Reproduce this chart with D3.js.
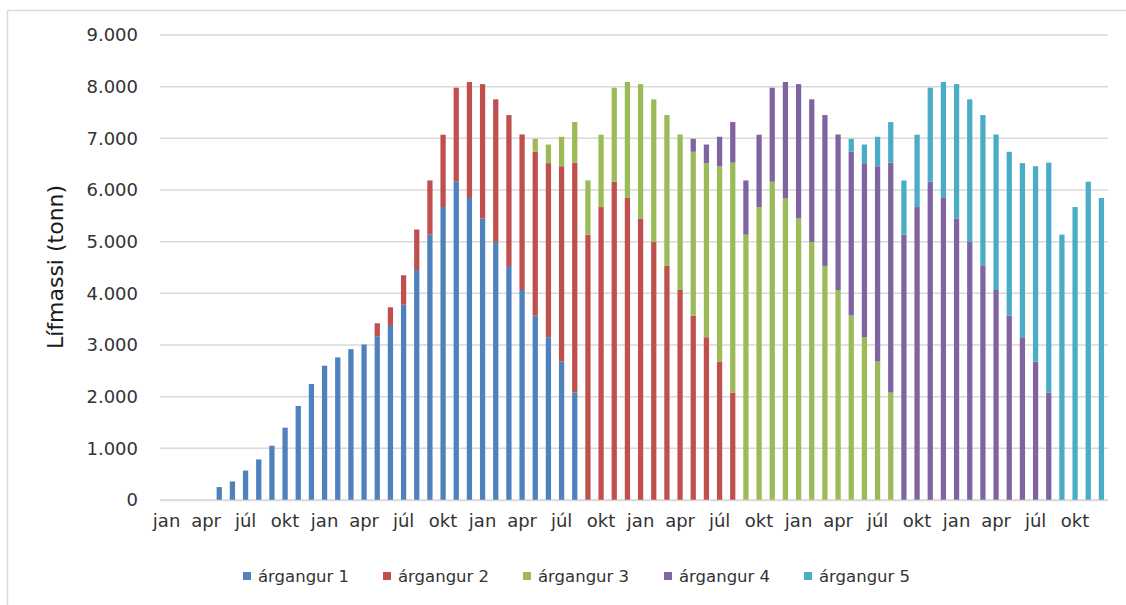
<!DOCTYPE html>
<html>
<head>
<meta charset="utf-8">
<script src="https://cdn.jsdelivr.net/npm/d3@7"></script>
<style>
  html, body { margin: 0; padding: 0; background: #fff; }
  svg { display: block; }
</style>
</head>
<body>
<svg id="chart" width="1126" height="605"></svg>
<script>
// ---- data ----
const monthNames = ["jan","feb","mar","apr","maí","jún","júl","ágú","sep","okt","nóv","des"];
const years = [1, 2, 3, 4, 5, 6];
const tickLabels = ["jan", "apr", "júl", "okt"];
const seriesNames = ["árgangur 1", "árgangur 2", "árgangur 3", "árgangur 4", "árgangur 5"];
const seriesColors = ["#4F81BD", "#C0504D", "#9BBB59", "#8064A2", "#4BACC6"];
const yTicks = [0, 1000, 2000, 3000, 4000, 5000, 6000, 7000, 8000, 9000];

const argangur1 = [0,0,0,0,250,360,570,785,1050,1400,1820,2245,2600,2760,2920,3010,3170,3370,3780,4450,5135,5670,6160,5845,5450,4995,4530,4065,3570,3150,2680,2080,
  0,0,0,0,0,0,0,0,0,0,0,0,0,0,0,0,0,0,0,0,0,0,0,0,0,0,0,0,0,0,0,0,0,0,0,0,0,0,0,0];
const argangur2 = [0,0,0,0,0,0,0,0,0,0,0,0,0,0,0,0,
  250,360,570,785,1050,1400,1820,2245,2600,2760,2920,3010,3170,3370,3780,4450,5135,5670,6160,5845,5450,4995,4530,4065,3570,3150,2680,2080,
  0,0,0,0,0,0,0,0,0,0,0,0,0,0,0,0,0,0,0,0,0,0,0,0,0,0,0,0];
const argangur3 = [0,0,0,0,0,0,0,0,0,0,0,0,0,0,0,0,0,0,0,0,0,0,0,0,0,0,0,0,
  250,360,570,785,1050,1400,1820,2245,2600,2760,2920,3010,3170,3370,3780,4450,5135,5670,6160,5845,5450,4995,4530,4065,3570,3150,2680,2080,
  0,0,0,0,0,0,0,0,0,0,0,0,0,0,0,0];
const argangur4 = [0,0,0,0,0,0,0,0,0,0,0,0,0,0,0,0,0,0,0,0,0,0,0,0,0,0,0,0,0,0,0,0,0,0,0,0,0,0,0,0,
  250,360,570,785,1050,1400,1820,2245,2600,2760,2920,3010,3170,3370,3780,4450,5135,5670,6160,5845,5450,4995,4530,4065,3570,3150,2680,2080,
  0,0,0,0];
const argangur5 = [0,0,0,0,0,0,0,0,0,0,0,0,0,0,0,0,0,0,0,0,0,0,0,0,0,0,0,0,0,0,0,0,0,0,0,0,0,0,0,0,0,0,0,0,0,0,0,0,0,0,0,0,
  250,360,570,785,1050,1400,1820,2245,2600,2760,2920,3010,3170,3370,3780,4450,5135,5670,6160,5845];

const seriesValues = [argangur1, argangur2, argangur3, argangur4, argangur5];

// ---- build table ----
const categories = [];
years.forEach((y, yi) => monthNames.forEach((m, mi) => categories.push({ id: yi * 12 + mi, month: m })));
const table = categories.map((c, i) => {
  const row = { id: c.id, month: c.month };
  seriesNames.forEach((s, si) => row[s] = seriesValues[si][i]);
  return row;
});

// ---- layout ----
const svg = d3.select("#chart");
const W = 1126, H = 605;
const plot = { left: 160, right: 1108, top: 35, bottom: 500 };
const textColor = "#333333";

// outer border (chart area)
svg.append("rect")
  .attr("x", 7.5).attr("y", 10.5)
  .attr("width", W + 20).attr("height", H + 20)
  .attr("fill", "#fff").attr("stroke", "#d9d9d9").attr("stroke-width", 1.5);

const x = d3.scaleBand()
  .domain(categories.map(c => c.id))
  .range([plot.left, plot.right])
  .paddingInner(0.6).paddingOuter(0.3);

const y = d3.scaleLinear().domain([0, 9000]).range([plot.bottom, plot.top]);

// gridlines
svg.append("g")
  .selectAll("line")
  .data(yTicks)
  .join("line")
  .attr("x1", plot.left).attr("x2", plot.right)
  .attr("y1", d => y(d)).attr("y2", d => y(d))
  .attr("stroke", "#d9d9d9").attr("stroke-width", 1.5);

// y axis labels
const fmt = d => d === 0 ? "0" : d3.format(",")(d).replace(/,/g, ".");
const yAxis = d3.axisLeft(y).tickValues(yTicks).tickFormat(fmt).tickSize(0).tickPadding(22);
const yg = svg.append("g").attr("transform", `translate(${plot.left},0)`).call(yAxis);
yg.select(".domain").remove();
yg.selectAll("text")
  .attr("font-family", "DejaVu Sans, Verdana, sans-serif")
  .attr("font-size", "18px")
  .attr("fill", textColor);

// stacked bars
const stack = d3.stack().keys(seriesNames);
const stacked = stack(table);

svg.append("g")
  .selectAll("g")
  .data(stacked)
  .join("g")
  .attr("fill", (d, i) => seriesColors[i])
  .selectAll("rect")
  .data(d => d.filter(p => p[1] - p[0] > 0))
  .join("rect")
  .attr("x", d => x(d.data.id))
  .attr("width", x.bandwidth())
  .attr("y", d => y(d[1]))
  .attr("height", d => y(d[0]) - y(d[1]));

// x axis
const tickIds = categories.filter(c => tickLabels.includes(c.month)).map(c => c.id);
const xAxis = d3.axisBottom(x)
  .tickValues(tickIds)
  .tickFormat(id => categories[id].month)
  .tickSize(0).tickPadding(14);
const xg = svg.append("g").attr("transform", `translate(0,${plot.bottom})`).call(xAxis);
xg.select(".domain")
  .attr("d", `M${plot.left},0.5H${plot.right}`)
  .attr("stroke", "#d9d9d9").attr("stroke-width", 1.5);
xg.selectAll("text")
  .attr("font-family", "DejaVu Sans, Verdana, sans-serif")
  .attr("font-size", "18px")
  .attr("fill", textColor);

// y title
svg.append("text")
  .attr("transform", `translate(63,${267}) rotate(-90)`)
  .attr("text-anchor", "middle")
  .attr("font-family", "DejaVu Sans, Verdana, sans-serif")
  .attr("font-size", "22px")
  .attr("fill", "#1a1a1a")
  .text("Lífmassi (tonn)");

// legend
const legendX = [243, 383, 523, 664, 804];
const leg = svg.append("g")
  .selectAll("g")
  .data(seriesNames)
  .join("g")
  .attr("transform", (d, i) => `translate(${legendX[i]},572)`);
leg.append("rect")
  .attr("width", 8).attr("height", 8)
  .attr("fill", (d, i) => seriesColors[i]);
leg.append("text")
  .attr("x", 15).attr("y", 10)
  .attr("font-family", "DejaVu Sans, Verdana, sans-serif")
  .attr("font-size", "16.5px")
  .attr("fill", textColor)
  .text(d => d);
</script>
</body>
</html>
